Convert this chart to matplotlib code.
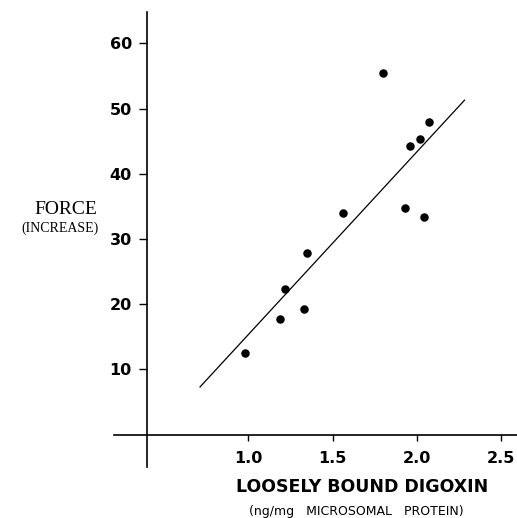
import matplotlib
matplotlib.use("Agg")
import matplotlib.pyplot as plt
import numpy as np

# loosely bound digoxin (ng/mg microsomal protein) vs force increase
digoxin = [0.98, 1.19, 1.22, 1.33, 1.35, 1.56, 1.80, 1.93, 1.96, 2.02, 2.04, 2.07]
force = [12.5, 17.7, 22.4, 19.2, 27.8, 34.0, 55.4, 34.7, 44.2, 45.4, 33.4, 48.0]

# regression line endpoints as drawn
line_x = [0.714, 2.282]
line_y = [7.3, 51.3]

xticks = [1.0, 1.5, 2.0, 2.5]
yticks = [10, 20, 30, 40, 50, 60]

fig = plt.figure(figsize=(5.17, 5.18), dpi=100)
ax = fig.add_axes([0.2205, 0.0985, 0.7795, 0.878])

ax.plot(line_x, line_y, color="black", lw=0.9)
ax.scatter(digoxin, force, s=26, color="black", zorder=3)

ax.set_xlim(0.204, 2.593)
ax.set_ylim(-4.98, 64.8)

ax.spines["top"].set_visible(False)
ax.spines["right"].set_visible(False)
ax.spines["left"].set_position(("data", 0.4))
ax.spines["bottom"].set_position(("data", 0))
ax.spines["left"].set_linewidth(1.2)
ax.spines["bottom"].set_linewidth(1.2)

ax.set_xticks(xticks)
ax.set_xticklabels([f"{t:.1f}" for t in xticks])
ax.set_yticks(yticks)
ax.tick_params(axis="x", direction="out", length=4, width=1, pad=8, labelsize=11.5)
ax.tick_params(axis="y", direction="out", length=6, width=1, pad=5, labelsize=11.5)
for lab in ax.get_xticklabels() + ax.get_yticklabels():
    lab.set_fontweight("bold")

fig.text(0.188, 0.595, "FORCE", family="Liberation Serif", fontsize=14,
         ha="right", va="center")
fig.text(0.19, 0.559, "(INCREASE)", family="Liberation Serif", fontsize=10,
         ha="right", va="center")

fig.text(0.70, 0.06, "LOOSELY BOUND DIGOXIN", fontsize=12.5, fontweight="bold",
         ha="center", va="center")
fig.text(0.69, 0.012, "(ng/mg   MICROSOMAL   PROTEIN)", fontsize=9,
         ha="center", va="center")

plt.savefig("out.png", dpi=100)
